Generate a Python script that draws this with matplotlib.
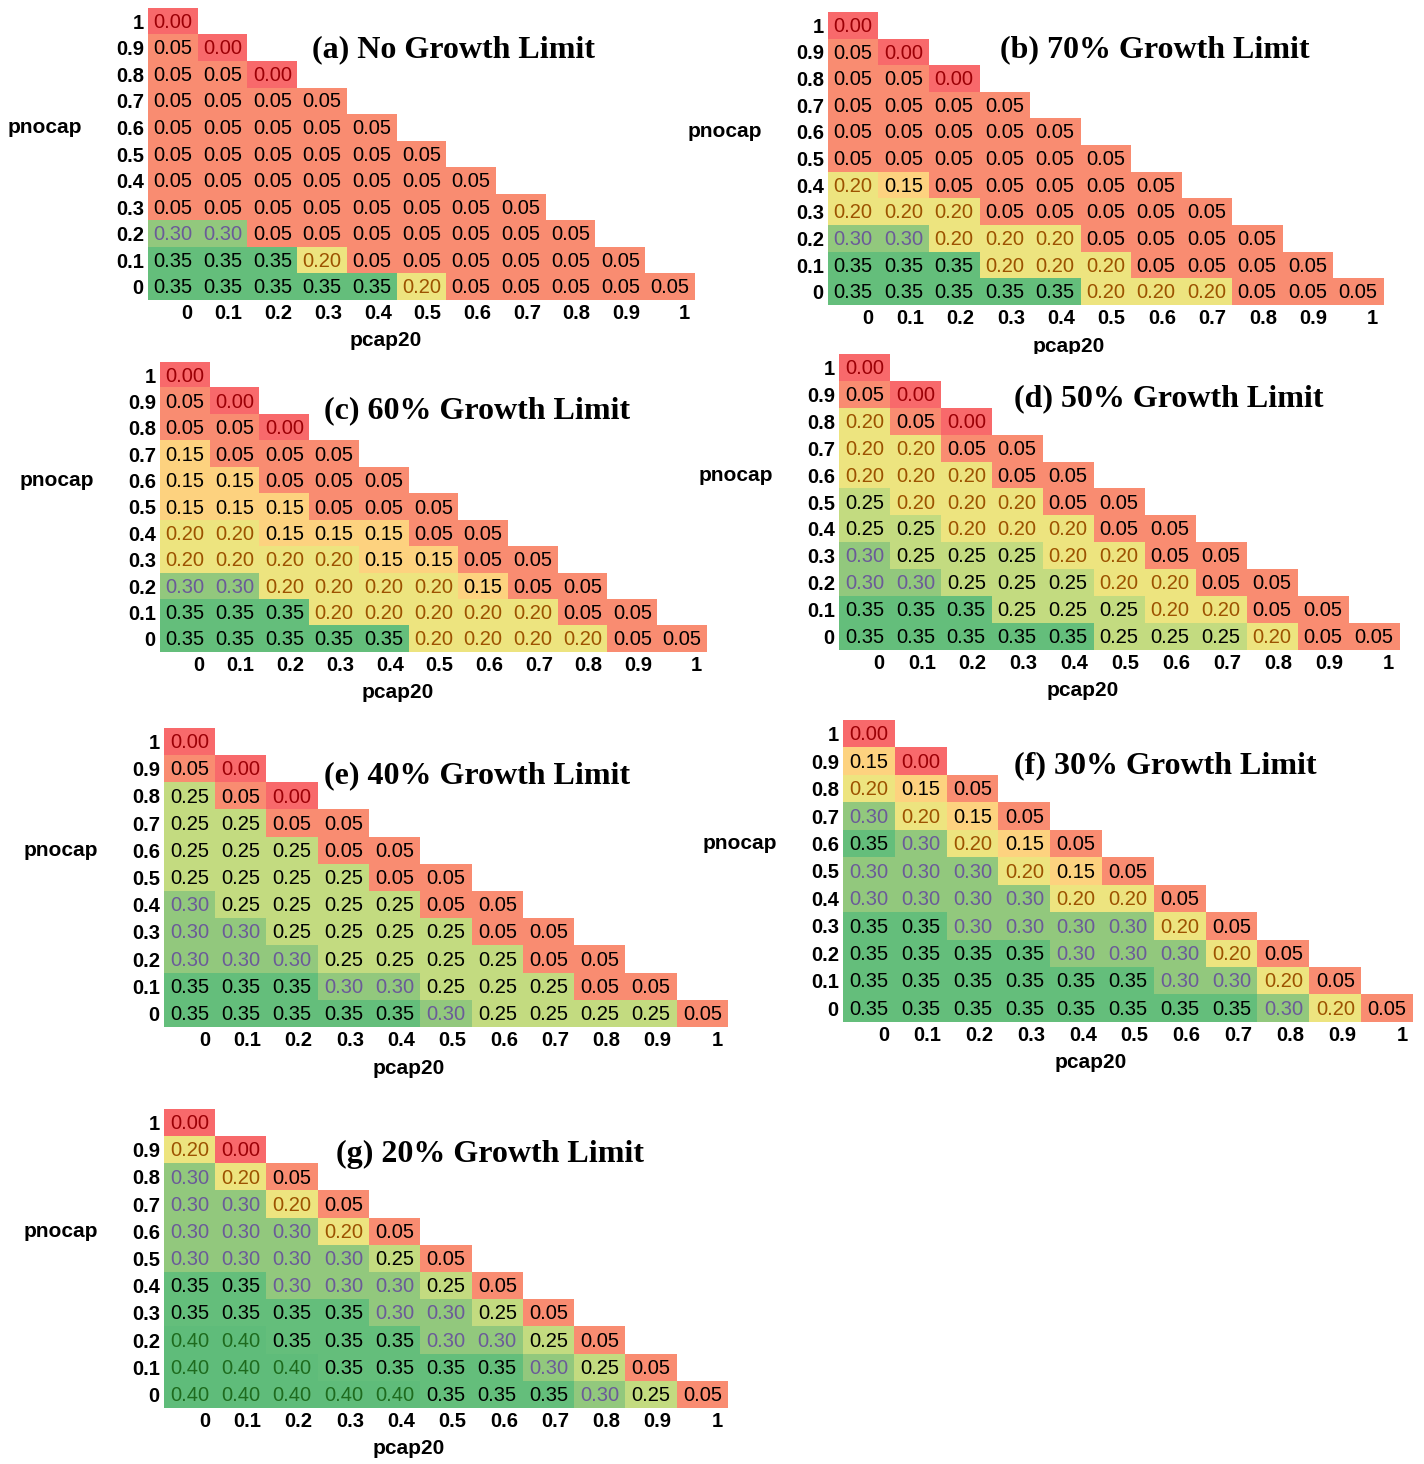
import numpy as np
import matplotlib
matplotlib.use('Agg')
import matplotlib.pyplot as plt
from matplotlib.colors import to_rgba

plt.rcParams['font.family'] = ['Liberation Sans', 'DejaVu Sans']

# etiquetas de los ejes
pnocap = ['1', '0.9', '0.8', '0.7', '0.6', '0.5', '0.4', '0.3', '0.2', '0.1', '0']
pcap20 = ['0', '0.1', '0.2', '0.3', '0.4', '0.5', '0.6', '0.7', '0.8', '0.9', '1']

# valores de cada panel (filas de pnocap=1 a pnocap=0)
panel_a = [
    [0.00],
    [0.05, 0.00],
    [0.05, 0.05, 0.00],
    [0.05, 0.05, 0.05, 0.05],
    [0.05, 0.05, 0.05, 0.05, 0.05],
    [0.05, 0.05, 0.05, 0.05, 0.05, 0.05],
    [0.05, 0.05, 0.05, 0.05, 0.05, 0.05, 0.05],
    [0.05, 0.05, 0.05, 0.05, 0.05, 0.05, 0.05, 0.05],
    [0.30, 0.30, 0.05, 0.05, 0.05, 0.05, 0.05, 0.05, 0.05],
    [0.35, 0.35, 0.35, 0.20, 0.05, 0.05, 0.05, 0.05, 0.05, 0.05],
    [0.35, 0.35, 0.35, 0.35, 0.35, 0.20, 0.05, 0.05, 0.05, 0.05, 0.05],
]
panel_b = [
    [0.00],
    [0.05, 0.00],
    [0.05, 0.05, 0.00],
    [0.05, 0.05, 0.05, 0.05],
    [0.05, 0.05, 0.05, 0.05, 0.05],
    [0.05, 0.05, 0.05, 0.05, 0.05, 0.05],
    [0.20, 0.15, 0.05, 0.05, 0.05, 0.05, 0.05],
    [0.20, 0.20, 0.20, 0.05, 0.05, 0.05, 0.05, 0.05],
    [0.30, 0.30, 0.20, 0.20, 0.20, 0.05, 0.05, 0.05, 0.05],
    [0.35, 0.35, 0.35, 0.20, 0.20, 0.20, 0.05, 0.05, 0.05, 0.05],
    [0.35, 0.35, 0.35, 0.35, 0.35, 0.20, 0.20, 0.20, 0.05, 0.05, 0.05],
]
panel_c = [
    [0.00],
    [0.05, 0.00],
    [0.05, 0.05, 0.00],
    [0.15, 0.05, 0.05, 0.05],
    [0.15, 0.15, 0.05, 0.05, 0.05],
    [0.15, 0.15, 0.15, 0.05, 0.05, 0.05],
    [0.20, 0.20, 0.15, 0.15, 0.15, 0.05, 0.05],
    [0.20, 0.20, 0.20, 0.20, 0.15, 0.15, 0.05, 0.05],
    [0.30, 0.30, 0.20, 0.20, 0.20, 0.20, 0.15, 0.05, 0.05],
    [0.35, 0.35, 0.35, 0.20, 0.20, 0.20, 0.20, 0.20, 0.05, 0.05],
    [0.35, 0.35, 0.35, 0.35, 0.35, 0.20, 0.20, 0.20, 0.20, 0.05, 0.05],
]
panel_d = [
    [0.00],
    [0.05, 0.00],
    [0.20, 0.05, 0.00],
    [0.20, 0.20, 0.05, 0.05],
    [0.20, 0.20, 0.20, 0.05, 0.05],
    [0.25, 0.20, 0.20, 0.20, 0.05, 0.05],
    [0.25, 0.25, 0.20, 0.20, 0.20, 0.05, 0.05],
    [0.30, 0.25, 0.25, 0.25, 0.20, 0.20, 0.05, 0.05],
    [0.30, 0.30, 0.25, 0.25, 0.25, 0.20, 0.20, 0.05, 0.05],
    [0.35, 0.35, 0.35, 0.25, 0.25, 0.25, 0.20, 0.20, 0.05, 0.05],
    [0.35, 0.35, 0.35, 0.35, 0.35, 0.25, 0.25, 0.25, 0.20, 0.05, 0.05],
]
panel_e = [
    [0.00],
    [0.05, 0.00],
    [0.25, 0.05, 0.00],
    [0.25, 0.25, 0.05, 0.05],
    [0.25, 0.25, 0.25, 0.05, 0.05],
    [0.25, 0.25, 0.25, 0.25, 0.05, 0.05],
    [0.30, 0.25, 0.25, 0.25, 0.25, 0.05, 0.05],
    [0.30, 0.30, 0.25, 0.25, 0.25, 0.25, 0.05, 0.05],
    [0.30, 0.30, 0.30, 0.25, 0.25, 0.25, 0.25, 0.05, 0.05],
    [0.35, 0.35, 0.35, 0.30, 0.30, 0.25, 0.25, 0.25, 0.05, 0.05],
    [0.35, 0.35, 0.35, 0.35, 0.35, 0.30, 0.25, 0.25, 0.25, 0.25, 0.05],
]
panel_f = [
    [0.00],
    [0.15, 0.00],
    [0.20, 0.15, 0.05],
    [0.30, 0.20, 0.15, 0.05],
    [0.35, 0.30, 0.20, 0.15, 0.05],
    [0.30, 0.30, 0.30, 0.20, 0.15, 0.05],
    [0.30, 0.30, 0.30, 0.30, 0.20, 0.20, 0.05],
    [0.35, 0.35, 0.30, 0.30, 0.30, 0.30, 0.20, 0.05],
    [0.35, 0.35, 0.35, 0.35, 0.30, 0.30, 0.30, 0.20, 0.05],
    [0.35, 0.35, 0.35, 0.35, 0.35, 0.35, 0.30, 0.30, 0.20, 0.05],
    [0.35, 0.35, 0.35, 0.35, 0.35, 0.35, 0.35, 0.35, 0.30, 0.20, 0.05],
]
panel_g = [
    [0.00],
    [0.20, 0.00],
    [0.30, 0.20, 0.05],
    [0.30, 0.30, 0.20, 0.05],
    [0.30, 0.30, 0.30, 0.20, 0.05],
    [0.30, 0.30, 0.30, 0.30, 0.25, 0.05],
    [0.35, 0.35, 0.30, 0.30, 0.30, 0.25, 0.05],
    [0.35, 0.35, 0.35, 0.35, 0.30, 0.30, 0.25, 0.05],
    [0.40, 0.40, 0.35, 0.35, 0.35, 0.30, 0.30, 0.25, 0.05],
    [0.40, 0.40, 0.40, 0.35, 0.35, 0.35, 0.35, 0.30, 0.25, 0.05],
    [0.40, 0.40, 0.40, 0.40, 0.40, 0.35, 0.35, 0.35, 0.30, 0.25, 0.05],
]

titulos = ['(a) No Growth Limit', '(b) 70% Growth Limit', '(c) 60% Growth Limit',
           '(d) 50% Growth Limit', '(e) 40% Growth Limit', '(f) 30% Growth Limit',
           '(g) 20% Growth Limit']
paneles = [panel_a, panel_b, panel_c, panel_d, panel_e, panel_f, panel_g]

# colores tipo escala de Excel
color_celda = {'0.00': '#f8696b', '0.05': '#f98c71', '0.15': '#fdd27f', '0.20': '#ede47f',
               '0.25': '#c3db80', '0.30': '#92c87d', '0.35': '#64be7b', '0.40': '#5fbc7a'}
color_texto = {'0.00': '#9c0006', '0.20': '#9c5200', '0.30': '#6b5b98', '0.40': '#1e6b1e'}

# cajas de cada panel en pixeles (x0, y0, x1, y1)
W, H = 1424, 1464
cajas = [(148, 8, 695, 300), (828, 12, 1383, 305), (160, 362, 707, 652),
         (839, 354, 1399, 650), (164, 728, 728, 1027), (843, 720, 1413, 1022),
         (164, 1109, 728, 1408)]
pos_titulo = [(5.64, 1.08), (5.97, 0.92), (5.88, 1.36), (5.98, 1.17),
              (5.6, 1.26), (5.72, 1.18), (5.85, 1.19)]

fig = plt.figure(figsize=(W / 100, H / 100), dpi=100)

for vals, titulo, caja, pt in zip(paneles, titulos, cajas, pos_titulo):
    x0, y0, x1, y1 = caja
    ax = fig.add_axes([x0 / W, 1 - y1 / H, (x1 - x0) / W, (y1 - y0) / H])
    n = len(pnocap)
    rgba = np.zeros((n, n, 4))
    for r, fila in enumerate(vals):
        for c, v in enumerate(fila):
            key = f'{v:.2f}'
            rgba[r, c] = to_rgba(color_celda[key])
            ax.text(c, r + 0.04, key, ha='center', va='center', fontsize=14.5,
                    color=color_texto.get(key, 'black'))
    ax.imshow(rgba, extent=(-0.5, n - 0.5, n - 0.5, -0.5), aspect='auto',
              interpolation='nearest')
    ax.set_xlim(-0.5, n - 0.5)
    ax.set_ylim(n - 0.5, -0.5)

    ax.set_xticks(np.arange(n) + 0.4)
    ax.set_xticklabels(pcap20, fontweight='bold', fontsize=14.5, ha='right')
    ax.set_yticks(np.arange(n))
    ax.set_yticklabels(pnocap, fontweight='bold', fontsize=14.5)
    ax.tick_params(length=0, pad=3)
    for s in ax.spines.values():
        s.set_visible(False)

    ax.text(pt[0], pt[1], titulo, ha='center', va='center', fontsize=23,
            fontweight='bold', family=['Liberation Serif', 'DejaVu Serif'])
    ax.annotate('pcap20', xy=(4.28, 0), xycoords=('data', 'axes fraction'),
                xytext=(0, -41 * 0.72), textcoords='offset points',
                ha='center', va='center', fontsize=15, fontweight='bold')
    ax.annotate('pnocap', xy=(0, 4), xycoords=('axes fraction', 'data'),
                xytext=(-103 * 0.72, 0), textcoords='offset points',
                ha='center', va='center', fontsize=15, fontweight='bold')

plt.savefig('out.png', dpi=100)
